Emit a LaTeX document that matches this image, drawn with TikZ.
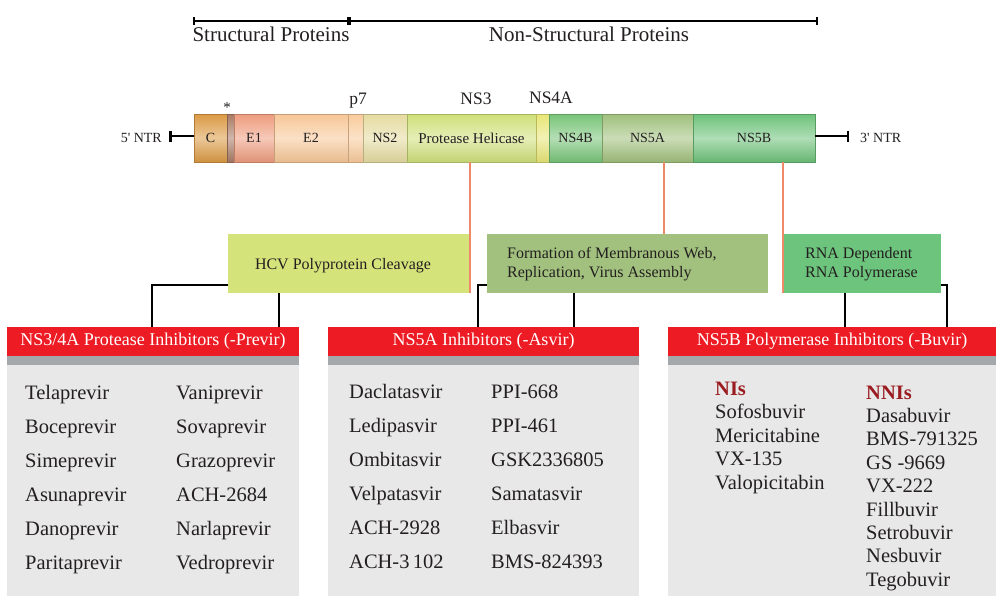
\documentclass[tikz,border=0pt]{standalone}
\usepackage{fontspec}
\setmainfont{Liberation Serif}
\usetikzlibrary{arrows.meta}
\definecolor{cC}{HTML}{DB9A44}
\definecolor{cStar}{HTML}{A97B66}
\definecolor{cE1}{HTML}{EE9C7E}
\definecolor{cE2}{HTML}{F7C797}
\definecolor{cP7}{HTML}{F9CB9B}
\definecolor{cNS2}{HTML}{E5DBA0}
\definecolor{cNS3}{HTML}{D0E07A}
\definecolor{cNS4A}{HTML}{E8E676}
\definecolor{cNS4B}{HTML}{78C478}
\definecolor{cNS5A}{HTML}{A0C07C}
\definecolor{cNS5B}{HTML}{6DC27A}
\definecolor{cHCV}{HTML}{D4E37A}
\definecolor{cFMW}{HTML}{A2C17E}
\definecolor{cRNA}{HTML}{6DC47C}
\definecolor{cRed}{HTML}{ED1C24}
\definecolor{cStrip}{HTML}{A5A8AA}
\definecolor{cPanel}{HTML}{E8E8E8}
\definecolor{cOrange}{HTML}{EE8A6A}
\definecolor{cDark}{HTML}{9A1C20}
\definecolor{cText}{HTML}{231F20}
\begin{document}
\begin{tikzpicture}[x=1pt,y=-1pt,
  every node/.style={text=cText},
  seg/.style={anchor=north west, inner sep=0pt, outer sep=0pt, minimum height=48pt,
    draw=#1!80!black, line width=0.5pt, top color=#1, bottom color=#1!94!black,
    middle color=#1!55!white, font=\fontsize{14}{16}\selectfont},
  toplbl/.style={font=\fontsize{21}{24}\selectfont, inner sep=0pt, anchor=base},
  glbl/.style={font=\fontsize{17.5}{20}\selectfont, inner sep=0pt, anchor=base},
  ntrlbl/.style={font=\fontsize{14}{16}\selectfont, inner sep=0pt},
  topline/.style={line width=2pt, {Bar[width=8pt,line width=2pt]}-{Bar[width=8pt,line width=2pt]}},
  ntr/.style={line width=2.5pt, {Bar[width=11pt,line width=2.5pt]}-},
  fnbox/.style={anchor=north west, inner sep=0pt, outer sep=0pt, minimum height=59pt},
  mtxt/.style={font=\fontsize{16}{19}\selectfont, inner sep=0pt},
  oline/.style={draw=cOrange, line width=1.6pt},
  conn/.style={draw=black, line width=1.8pt},
  hdr/.style={anchor=north west, fill=cRed, inner sep=0pt, outer sep=0pt, minimum height=29pt,
    text=white, font=\fontsize{18}{20}\selectfont},
  panel/.style={anchor=north west, fill=cPanel, inner sep=0pt, outer sep=0pt, minimum height=240pt},
  strip/.style={anchor=north west, fill=cStrip, inner sep=0pt, outer sep=0pt, minimum height=9pt},
  drug/.style={font=\fontsize{20.5}{23}\selectfont, inner sep=0pt, anchor=base west},
  sub/.style={font=\bfseries\fontsize{20.5}{23}\selectfont, text=cDark, inner sep=0pt, anchor=base west}
]
\fill[white] (0,0) rectangle (1000,614);
\useasboundingbox (0,0) rectangle (1000,614);

% top bar
\coordinate (sL) at (193,21);
\coordinate (sM) at (349,21);
\coordinate (sR) at (818,21);
\draw[topline] (sL) -- (sM);
\draw[topline] (sM) -- (sR);
\node[toplbl] (tStruct) at (271,41) {Structural Proteins};
\node[toplbl] (tNonStruct) at (589,41) {Non-Structural Proteins};

% genome segments
\node[seg=cC, minimum width=33pt] (C) at (194,114) {C};
\node[seg=cStar, minimum width=7pt] (star) at (227,114) {};
\node[seg=cE1, minimum width=40pt] (E1) at (234,114) {E1};
\node[seg=cE2, minimum width=74pt] (E2) at (274,114) {E2};
\node[seg=cP7, minimum width=15pt] (P7) at (348,114) {};
\node[seg=cNS2, minimum width=44pt] (NS2) at (363,114) {NS2};
\node[seg=cNS3, minimum width=129pt, font=\fontsize{15}{17}\selectfont] (NS3) at (407,114) {Protease Helicase};
\node[seg=cNS4A, minimum width=13pt] (NS4A) at (536,114) {};
\node[seg=cNS4B, minimum width=53pt] (NS4B) at (549,114) {NS4B};
\node[seg=cNS5A, minimum width=91pt] (NS5A) at (602,114) {NS5A};
\node[seg=cNS5B, minimum width=122pt] (NS5B) at (693,114) {NS5B};

\node[font=\fontsize{15}{15}\selectfont, inner sep=0pt] (lstar) at (227,108) {*};
\node[glbl] (lp7) at (358,104) {p7};
\node[glbl] (lNS3) at (476,104) {NS3};
\node[glbl] (lNS4A) at (551,103) {NS4A};

% NTR ends
\coordinate (ntrL) at (169,136);
\coordinate (ntrR) at (849,136);
\draw[ntr] (ntrL) -- (C.west |- ntrL);
\draw[ntr] (ntrR) -- (NS5B.east |- ntrR);
\node[ntrlbl, anchor=base east] (t5) at (162,142) {5\textquotesingle{} NTR};
\node[ntrlbl, anchor=base west] (t3) at (860,142) {3\textquotesingle{} NTR};

% function boxes
\node[fnbox, fill=cHCV, minimum width=242pt] (HCV) at (228,234) {};
\node[fnbox, fill=cFMW, minimum width=281pt] (FMW) at (487,234) {};
\node[fnbox, fill=cRNA, minimum width=158pt] (RNA) at (783,234) {};
\node[mtxt, anchor=base] (tHCV) at (343,269) {HCV Polyprotein Cleavage};
\node[mtxt, anchor=base west] (tFMW1) at (507,258) {Formation of Membranous Web,};
\node[mtxt, anchor=base west] (tFMW2) at (507,277) {Replication, Virus Assembly};
\node[mtxt, anchor=base west] (tRNA1) at (805,258) {RNA Dependent};
\node[mtxt, anchor=base west] (tRNA2) at (805,277) {RNA Polymerase};

% orange links
\draw[oline] (HCV.south east |- NS3.south) -- (HCV.south east);
\draw[oline] ([xshift=62pt]NS5A.south west) -- ([xshift=62pt]NS5A.south west |- FMW.north);
\draw[oline] (RNA.north west |- NS5B.south) -- (RNA.south west);

% panels
\node[panel, minimum width=292pt] (P1) at (7,356) {};
\node[panel, minimum width=311pt] (P2) at (328,356) {};
\node[panel, minimum width=328pt] (P3) at (668,356) {};
\node[strip, minimum width=292pt] (S1) at (7,356) {};
\node[strip, minimum width=311pt] (S2) at (328,356) {};
\node[strip, minimum width=328pt] (S3) at (668,356) {};
\node[hdr, minimum width=292pt] (H1) at (7,327) {NS3/4A Protease Inhibitors (-Previr)};
\node[hdr, minimum width=311pt] (H2) at (328,327) {NS5A Inhibitors (-Asvir)};
\node[hdr, minimum width=328pt] (H3) at (668,327) {NS5B Polymerase Inhibitors (-Buvir)};

% black connectors
\draw[conn] ([yshift=8pt]HCV.south west) -| ([xshift=145pt]H1.north west);
\draw[conn] ([xshift=51pt]HCV.south west) -- ([xshift=51pt]HCV.south west |- H1.north);
\draw[conn] ([yshift=8pt]FMW.south west) -| ([xshift=150pt]H2.north west);
\draw[conn] ([xshift=87pt]FMW.south west) -- ([xshift=87pt]FMW.south west |- H2.north);
\draw[conn] ([xshift=62pt]RNA.south west) -- ([xshift=62pt]RNA.south west |- H3.north);
\draw[conn] ([yshift=8pt]RNA.south east) -| ([xshift=-49pt]H3.north east);

% panel 1
\foreach \t [count=\i] in {Telaprevir,Boceprevir,Simeprevir,Asunaprevir,Danoprevir,Paritaprevir}
  \node[drug] (pa\i) at (25,{399+34*(\i-1)}) {\t};
\foreach \t [count=\i] in {Vaniprevir,Sovaprevir,Grazoprevir,ACH-2684,Narlaprevir,Vedroprevir}
  \node[drug] (pb\i) at (176,{399+34*(\i-1)}) {\t};
% panel 2
\foreach \t [count=\i] in {Daclatasvir,Ledipasvir,Ombitasvir,Velpatasvir,ACH-2928,ACH-3\,102}
  \node[drug] (qa\i) at (349,{398+34*(\i-1)}) {\t};
\foreach \t [count=\i] in {PPI-668,PPI-461,GSK2336805,Samatasvir,Elbasvir,BMS-824393}
  \node[drug] (qb\i) at (491,{398+34*(\i-1)}) {\t};
% panel 3
\node[sub] (tNI) at (715,395) {NIs};
\foreach \t [count=\i] in {Sofosbuvir,Mericitabine,VX-135,Valopicitabin}
  \node[drug] (ra\i) at (715,{395+23.5*\i}) {\t};
\node[sub] (tNNI) at (866,399) {NNIs};
\foreach \t [count=\i] in {Dasabuvir,BMS-791325,GS -9669,VX-222,Fillbuvir,Setrobuvir,Nesbuvir,Tegobuvir}
  \node[drug] (rb\i) at (866,{399+23.4*\i}) {\t};
\end{tikzpicture}
\end{document}
